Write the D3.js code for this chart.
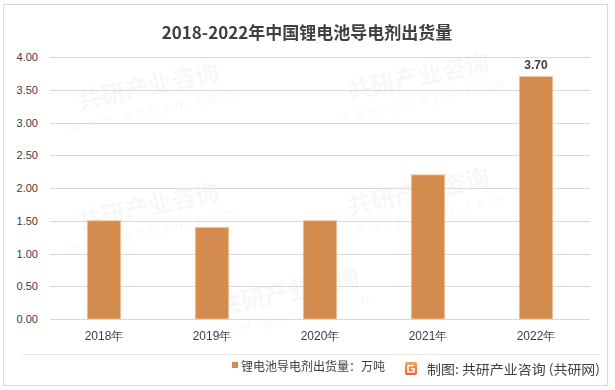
<!DOCTYPE html>
<html><head><meta charset="utf-8">
<script src="https://cdn.jsdelivr.net/npm/d3@7/dist/d3.min.js"></script>
<style>body{margin:0;background:#fff;}svg{display:block;font-family:"Microsoft YaHei","Noto Sans CJK SC",sans-serif;}</style>
</head><body><svg id="c" width="615" height="390"></svg>
<script>
const categories = ["2018年","2019年","2020年","2021年","2022年"];
const values = [1.5, 1.4, 1.5, 2.2, 3.7];
const yTicks = [0,0.5,1,1.5,2,2.5,3,3.5,4];
const labeledIndex = [4];
const title = "2018-2022年中国锂电池导电剂出货量";
const legendLabel = "锂电池导电剂出货量：万吨";
const sourceLabel = "制图: 共研产业咨询 (共研网)";

const svg = d3.select("#c");
svg.append("rect").attr("x",3.5).attr("y",4.5).attr("width",604).attr("height",381)
  .attr("fill","#fff").attr("stroke","#d9d9d9");

// faint watermarks
const wm = svg.append("g").attr("opacity",0.035).attr("fill","#000");
const wmPos = [[150,95],[420,85],[150,215],[420,200],[290,300]];
wmPos.forEach(([x,y])=>{
  const g = wm.append("g").attr("transform",`translate(${x},${y}) rotate(-12)`);
  g.append("text").attr("text-anchor","middle").attr("font-size",24).attr("font-weight","bold").text("共研产业咨询");
  g.append("text").attr("text-anchor","middle").attr("y",20).attr("font-size",14).attr("letter-spacing","5").text("www.gonyn.com");
});

svg.append("text").attr("x",307).attr("y",39).attr("text-anchor","middle")
  .attr("font-size",17).attr("font-weight","bold").attr("fill","#404040").text(title);

const x = d3.scaleBand().domain(categories).range([50,590]).paddingInner(0.69).paddingOuter(0.345);
const y = d3.scaleLinear().domain([0,4]).range([319,57]);

const yAxis = d3.axisLeft(y).tickValues(yTicks).tickFormat(d3.format(".2f")).tickSize(0).tickPadding(12);
const gy = svg.append("g").attr("transform","translate(50,0)").call(yAxis);
gy.select(".domain").remove();
gy.selectAll("text").attr("font-size",11).attr("fill","#404040").attr("font-family","Liberation Sans, Arial, sans-serif");

svg.append("g").selectAll("line").data(yTicks).join("line")
  .attr("x1",50).attr("x2",590).attr("y1",d=>Math.round(y(d))+0.5).attr("y2",d=>Math.round(y(d))+0.5)
  .attr("stroke","#d9d9d9").attr("stroke-width",1);

svg.append("g").selectAll("rect").data(values).join("rect")
  .attr("x",(d,i)=>x(categories[i])).attr("width",x.bandwidth())
  .attr("y",d=>y(d)).attr("height",d=>y(0)-y(d))
  .attr("fill","#D38B4E").attr("stroke","#F3C9A4").attr("stroke-width",0.8);

svg.append("g").selectAll("text").data(labeledIndex).join("text")
  .attr("x",i=>x(categories[i])+x.bandwidth()/2).attr("y",i=>y(values[i])-8)
  .attr("text-anchor","middle").attr("font-size",12).attr("font-weight","bold").attr("fill","#404040")
  .attr("font-family","Liberation Sans, Arial, sans-serif")
  .text(i=>d3.format(".2f")(values[i]));

const xAxis = d3.axisBottom(x).tickSize(0).tickPadding(12);
const gx = svg.append("g").attr("transform","translate(0,319)").call(xAxis);
gx.select(".domain").remove();
gx.selectAll("text").attr("font-size",12).attr("fill","#404040");

svg.append("line").attr("x1",22).attr("x2",600).attr("y1",354.5).attr("y2",354.5).attr("stroke","#e6e6e6");

// legend
svg.append("rect").attr("x",232).attr("y",362).attr("width",6).attr("height",6).attr("fill","#D38B4E");
svg.append("text").attr("x",241).attr("y",371).attr("font-size",12).attr("fill","#404040")
  .attr("textLength",144).attr("lengthAdjust","spacingAndGlyphs").text(legendLabel);

// logo
const grad = svg.append("defs").append("linearGradient").attr("id","lg").attr("x1",0).attr("y1",0).attr("x2",0).attr("y2",1);
grad.append("stop").attr("offset",0).attr("stop-color","#F7A35C");
grad.append("stop").attr("offset",1).attr("stop-color","#E8613A");
const lg = svg.append("g").attr("transform","translate(405,362)");
lg.append("rect").attr("width",12).attr("height",13).attr("rx",2).attr("fill","url(#lg)");
lg.append("path").attr("d","M3 3.5 H9 M3 3.5 V10 H9 V7 H6").attr("stroke","#fff").attr("stroke-width",1.6).attr("fill","none");
svg.append("text").attr("x",427).attr("y",374).attr("font-size",13).attr("fill","#404040")
  .attr("textLength",173).attr("lengthAdjust","spacingAndGlyphs").text(sourceLabel);
</script></body></html>
